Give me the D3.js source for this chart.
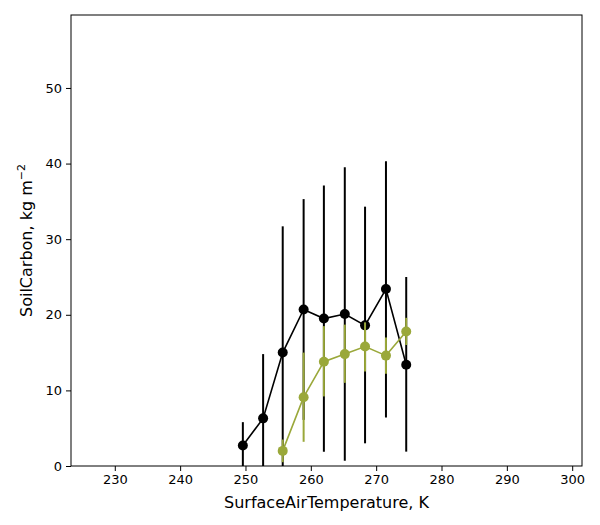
<!DOCTYPE html>
<html><head><meta charset="utf-8">
<script src="https://cdn.jsdelivr.net/npm/d3@7"></script>
<style>body{margin:0;background:#fff}text{font-family:"DejaVu Sans",sans-serif}</style>
</head><body><div id="chart"></div>
<script>
// Data
let tempX = [249.6, 252.7, 255.7, 258.9, 262.0, 265.2, 268.3, 271.5, 274.6];
let blackY = [2.7, 6.3, 15.0, 20.7, 19.5, 20.1, 18.6, 23.4, 13.4];
let blackLo = [-1, -1, -1, 6.1, 1.9, 0.7, 3.0, 6.4, 1.9];
let blackHi = [5.8, 14.8, 31.7, 35.3, 37.1, 39.5, 34.3, 40.3, 25.0];
let greenX = [255.7, 258.9, 262.0, 265.2, 268.3, 271.5, 274.6];
let greenY = [2.0, 9.1, 13.8, 14.8, 15.8, 14.6, 17.8];
let greenLo = [0.5, 3.2, 9.2, 11.0, 12.5, 12.2, 16.0];
let greenHi = [3.5, 15.0, 18.5, 18.7, 19.0, 17.0, 19.6];
let xTicks = [230, 240, 250, 260, 270, 280, 290, 300];
let yTicks = [0, 10, 20, 30, 40, 50];

let width = 600, height = 525;
let m = {left: 71, right: 18, top: 15, bottom: 59};

let svg = d3.select("#chart").append("svg")
  .attr("width", width).attr("height", height);

let x = d3.scaleLinear().domain([223.3, 301.5]).range([m.left, width - m.right]);
let y = d3.scaleLinear().domain([0, 59.65]).range([height - m.bottom, m.top]);

svg.append("defs").append("clipPath").attr("id", "clip")
  .append("rect").attr("x", m.left).attr("y", m.top)
  .attr("width", width - m.left - m.right).attr("height", height - m.top - m.bottom);

let xAxis = svg.append("g").attr("transform", `translate(0,${height - m.bottom})`)
  .call(d3.axisBottom(x).tickValues(xTicks).tickSize(5).tickPadding(4));
let yAxis = svg.append("g").attr("transform", `translate(${m.left},0)`)
  .call(d3.axisLeft(y).tickValues(yTicks).tickSize(5).tickPadding(4));
[xAxis, yAxis].forEach(a => {
  a.select(".domain").remove();
  a.selectAll("text").attr("font-size", 13).attr("fill", "#000").style("font-family", "DejaVu Sans");
  a.selectAll("line").attr("stroke", "#000");
});

let plot = svg.append("g").attr("clip-path", "url(#clip)");

function series(xs, ys, lo, hi, color) {
  let pts = xs.map((d, i) => ({x: d, y: ys[i], lo: lo[i], hi: hi[i]}));
  plot.selectAll(null).data(pts).enter().append("line")
    .attr("x1", d => x(d.x)).attr("x2", d => x(d.x))
    .attr("y1", d => y(d.lo)).attr("y2", d => y(d.hi))
    .attr("stroke", color).attr("stroke-width", 2);
  plot.append("path").datum(pts)
    .attr("d", d3.line().x(d => x(d.x)).y(d => y(d.y)))
    .attr("fill", "none").attr("stroke", color).attr("stroke-width", 1.6);
  plot.selectAll(null).data(pts).enter().append("circle")
    .attr("cx", d => x(d.x)).attr("cy", d => y(d.y)).attr("r", 5)
    .attr("fill", color);
}
series(tempX, blackY, blackLo, blackHi, "#000");
series(greenX, greenY, greenLo, greenHi, "#9aa83a");

svg.append("rect").attr("x", m.left).attr("y", m.top)
  .attr("width", width - m.left - m.right).attr("height", height - m.top - m.bottom)
  .attr("fill", "none").attr("stroke", "#000").attr("stroke-width", 1);

svg.append("text").attr("x", (m.left + width - m.right) / 2).attr("y", 508)
  .attr("text-anchor", "middle").attr("font-size", 16).text("SurfaceAirTemperature,  K");

let yl = svg.append("text").attr("transform", `translate(32,${(m.top + height - m.bottom) / 2}) rotate(-90)`)
  .attr("text-anchor", "middle").attr("font-size", 16);
yl.append("tspan").text("SoilCarbon,  kg m");
yl.append("tspan").attr("dy", -7).attr("font-size", 11).text("−2");
</script></body></html>
